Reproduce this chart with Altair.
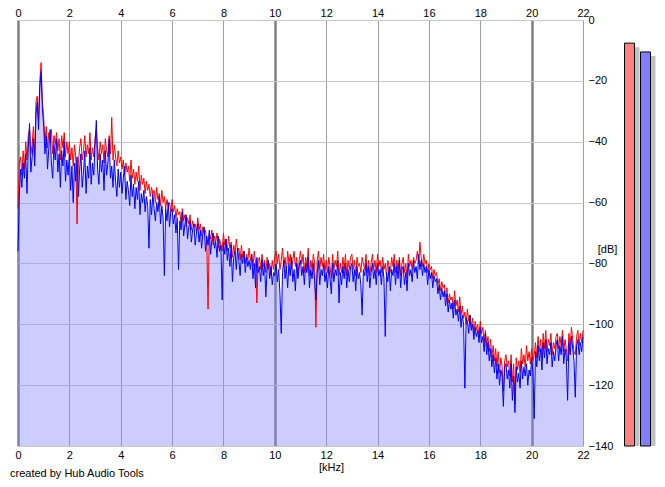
import altair as alt
import pandas as pd

# ---- spectrum data (dB), one value per 0.05 kHz bin from 0 to 22 kHz ----
FREQ_STEP_KHZ = 0.05

blue_db = [
    # 0 kHz
    -76, -58, -49, -55, -47, -52, -44, -57, -42, -34, -50, -45, -39, -48, -31, -27, -36, -22, -17, -29,
    # 1 kHz
    -35, -44, -38, -49, -42, -36, -47, -52, -41, -46, -39, -50, -44, -55, -43, -48, -40, -53, -46, -51,
    # 2 kHz
    -44, -56, -48, -60, -47, -53, -45, -58, -49, -44, -55, -50, -43, -57, -48, -52, -42, -54, -47, -51,
    # 3 kHz
    -41, -33, -49, -54, -44, -50, -46, -56, -43, -51, -47, -39, -52, -48, -55, -46, -53, -58, -49, -55,
    # 4 kHz
    -50, -57, -52, -48, -59, -53, -56, -61, -51, -58, -54, -62, -55, -59, -53, -64, -57, -60, -56, -63,
    # 5 kHz
    -58, -61, -75, -59, -64, -57, -62, -66, -60, -63, -58, -67, -61, -65, -84, -62, -66, -60, -68, -63,
    # 6 kHz
    -62, -67, -64, -70, -65, -82, -66, -69, -63, -71, -67, -64, -72, -68, -66, -73, -69, -67, -74, -70,
    # 7 kHz
    -67, -73, -69, -75, -70, -68, -76, -71, -74, -69, -77, -72, -70, -75, -73, -78, -71, -76, -74, -92,
    # 8 kHz
    -73, -77, -72, -79, -75, -81, -74, -86, -78, -76, -82, -75, -79, -84, -77, -80, -76, -83, -78, -81,
    # 9 kHz
    -79, -82, -77, -85, -80, -88, -78, -83, -81, -86, -79, -84, -80, -91, -82, -79, -85, -81, -87, -83,
    # 10 kHz
    -84, -80, -86, -82, -90, -103, -83, -79, -85, -81, -88, -80, -84, -78, -86, -82, -89, -80, -85, -81,
    # 11 kHz
    -79, -84, -81, -87, -80, -83, -78, -88, -82, -85, -80, -86, -92, -83, -79, -87, -82, -84, -80, -86,
    # 12 kHz
    -83, -88, -81, -85, -90, -80, -86, -82, -84, -79, -93, -83, -87, -81, -85, -80, -88, -82, -86, -81,
    # 13 kHz
    -80, -86, -82, -89, -81, -85, -83, -87, -97, -82, -84, -80, -86, -81, -88, -83, -80, -85, -82, -87,
    # 14 kHz
    -80, -84, -82, -87, -81, -85, -104, -83, -86, -81, -89, -82, -84, -80, -87, -81, -85, -79, -88, -82,
    # 15 kHz
    -81, -87, -83, -89, -80, -84, -82, -86, -79, -83, -81, -85, -77, -82, -79, -84, -80, -83, -81, -87,
    # 16 kHz
    -82, -85, -83, -88, -84, -86, -85, -90, -87, -92, -88, -91, -89, -94, -90, -96, -92, -95, -93, -98,
    # 17 kHz
    -92, -97, -95, -99, -94, -101, -97, -100, -121, -98, -99, -103, -97, -102, -100, -105, -101, -104, -102, -106,
    # 18 kHz
    -101, -106, -104, -109, -103, -110, -106, -112, -108, -114, -110, -116, -111, -118, -113, -120, -115, -117, -127, -114,
    # 19 kHz
    -113, -118, -115, -121, -113, -125, -117, -129, -114, -119, -116, -121, -112, -118, -114, -117, -113, -120, -115, -117,
    # 20 kHz
    -111, -116, -131, -109, -114, -107, -112, -108, -115, -106, -111, -105, -113, -108, -110, -106, -114, -109, -112, -107,
    # 21 kHz
    -105, -112, -107, -110, -104, -113, -108, -111, -125, -106, -110, -104, -108, -112, -124, -107, -105, -110, -106, -109,
    # 22 kHz
    -104,
]

red_db = [
    # 0 kHz
    -62, -47, -45, -51, -43, -49, -40, -46, -38, -36, -44, -41, -35, -45, -27, -25, -33, -20, -14, -27,
    # 1 kHz
    -32, -40, -35, -42, -37, -39, -36, -44, -38, -41, -37, -43, -39, -46, -38, -42, -37, -45, -40, -44,
    # 2 kHz
    -40, -46, -42, -48, -41, -45, -67, -47, -42, -39, -46, -43, -38, -45, -41, -44, -37, -46, -42, -45,
    # 3 kHz
    -39, -36, -42, -46, -40, -44, -41, -47, -39, -43, -45, -38, -44, -32, -46, -41, -45, -48, -43, -47,
    # 4 kHz
    -45, -49, -46, -51, -47, -50, -48, -53, -46, -52, -49, -54, -50, -53, -48, -56, -51, -54, -52, -57,
    # 5 kHz
    -53, -56, -54, -58, -55, -57, -56, -60, -55, -59, -57, -61, -56, -60, -58, -62, -59, -61, -60, -63,
    # 6 kHz
    -59, -63, -61, -65, -62, -64, -63, -67, -62, -66, -64, -68, -65, -67, -64, -69, -66, -68, -67, -70,
    # 7 kHz
    -65, -69, -67, -71, -68, -70, -69, -73, -95, -70, -72, -69, -74, -71, -73, -70, -75, -72, -74, -76,
    # 8 kHz
    -70, -74, -72, -76, -71, -75, -73, -78, -74, -77, -72, -76, -75, -79, -74, -78, -76, -80, -77, -79,
    # 9 kHz
    -75, -79, -77, -81, -76, -80, -93, -79, -78, -82, -77, -81, -79, -83, -78, -82, -80, -84, -79, -82,
    # 10 kHz
    -78, -76, -80, -77, -82, -79, -75, -81, -78, -83, -76, -80, -77, -82, -79, -76, -81, -78, -84, -79,
    # 11 kHz
    -76, -80, -77, -83, -78, -81, -75, -84, -79, -82, -77, -80, -101, -79, -76, -82, -78, -81, -77, -83,
    # 12 kHz
    -79, -83, -78, -81, -85, -77, -82, -79, -81, -76, -84, -80, -83, -78, -82, -77, -84, -79, -82, -78,
    # 13 kHz
    -77, -82, -79, -84, -78, -81, -80, -83, -78, -80, -82, -77, -83, -79, -84, -80, -77, -82, -79, -83,
    # 14 kHz
    -77, -81, -79, -83, -78, -82, -80, -84, -79, -81, -83, -78, -81, -77, -83, -79, -82, -78, -84, -80,
    # 15 kHz
    -78, -83, -80, -85, -77, -81, -79, -82, -78, -80, -79, -76, -80, -73, -78, -81, -77, -80, -79, -83,
    # 16 kHz
    -80, -82, -81, -85, -82, -84, -83, -87, -85, -89, -86, -88, -87, -91, -88, -93, -90, -92, -91, -95,
    # 17 kHz
    -89, -94, -92, -96, -91, -97, -94, -98, -96, -100, -95, -99, -97, -101, -98, -103, -99, -102, -100, -104,
    # 18 kHz
    -99, -103, -101, -106, -102, -107, -104, -109, -105, -111, -107, -112, -108, -114, -109, -116, -111, -114, -122, -112,
    # 19 kHz
    -110, -114, -112, -117, -110, -119, -113, -126, -111, -115, -112, -116, -108, -113, -110, -114, -107, -112, -109, -113,
    # 20 kHz
    -108, -112, -110, -106, -111, -104, -109, -105, -111, -103, -108, -102, -109, -105, -107, -103, -110, -106, -108, -104,
    # 21 kHz
    -103, -108, -104, -107, -102, -109, -105, -108, -112, -103, -107, -101, -105, -109, -110, -104, -102, -107, -103, -106,
    # 22 kHz
    -102,
]

freq_khz = [round(i * FREQ_STEP_KHZ, 2) for i in range(len(blue_db))]

# ---- level meters ----
meter_channels = ["L", "R"]
meter_levels_db = [-7.6, -10.5]

x_ticks = list(range(0, 23, 2))
y_ticks = list(range(-140, 1, 20))

FONT = "Liberation Sans"

spec = pd.DataFrame({"f": freq_khz, "blue": blue_db, "red": red_db})
meters = pd.DataFrame({"ch": meter_channels, "level": meter_levels_db})

y_scale = alt.Scale(domain=[-140, 0], nice=False, zero=False)
y_axis = alt.Axis(
    orient="right", values=y_ticks, grid=True, gridColor="#c8c8c8", gridWidth=1,
    ticks=False, domain=False, labelPadding=5, labelFontSize=11, labelColor="black",
    labelFont=FONT, labelAlign="left", labelBaseline="middle",
    title="[dB]", titleAngle=0, titleX=24, titleY=229, titleFontWeight="normal",
    titleFontSize=11, titleFont=FONT, titleColor="black",
    titleAlign="center", titleBaseline="middle",
)

def x_scale():
    return alt.Scale(domain=[0, 22], nice=False, zero=False)

x_axis_bottom = alt.Axis(
    orient="bottom", values=x_ticks, grid=True,
    gridColor={"condition": {"test": "datum.value % 10 === 0", "value": "#808080"}, "value": "#a0a0a0"},
    gridWidth={"condition": {"test": "datum.value % 10 === 0", "value": 2.5}, "value": 1},
    ticks=False, domain=False, labelPadding=3, labelFontSize=11, labelColor="black",
    labelFont=FONT, labelFlush=False, title="[kHz]", titlePadding=1, titleX=313,
    titleFontWeight="normal", titleFontSize=11, titleFont=FONT, titleColor="black",
)
x_axis_top = alt.Axis(
    orient="top", values=x_ticks, grid=False, ticks=False, domain=False,
    labelPadding=2, labelFontSize=11, labelColor="black", labelFont=FONT,
    labelFlush=False, title=None,
)

base = alt.Chart(spec)

area = base.mark_area(color="#8080ff", opacity=0.4).encode(
    x=alt.X("f:Q", scale=x_scale(), axis=x_axis_bottom),
    y=alt.Y("blue:Q", scale=y_scale, axis=y_axis),
    y2=alt.datum(-140),
)
red_line = base.mark_line(color="#ff0000", strokeWidth=1).encode(
    x=alt.X("f:Q", scale=x_scale(), axis=None),
    y=alt.Y("red:Q", scale=y_scale, axis=y_axis),
)
blue_line = base.mark_line(color="#0000ff", strokeWidth=1).encode(
    x=alt.X("f:Q", scale=x_scale(), axis=x_axis_top),
    y=alt.Y("blue:Q", scale=y_scale, axis=y_axis),
)

meter_x = alt.X(
    "ch:N",
    scale=alt.Scale(domain=meter_channels, range=[603.5, 635.5], paddingInner=0, paddingOuter=0),
    axis=None,
)
mbase = alt.Chart(meters)
shadow = mbase.mark_bar(width=10, color="#c0c0c0", xOffset=5, yOffset=4).encode(
    x=meter_x,
    y=alt.Y("level:Q", scale=y_scale, axis=y_axis),
    y2=alt.datum(-140),
)
bars = mbase.mark_bar(width=10, stroke="black", strokeWidth=1).encode(
    x=meter_x,
    y=alt.Y("level:Q", scale=y_scale, axis=y_axis),
    y2=alt.datum(-140),
    color=alt.Color("ch:N", scale=alt.Scale(domain=meter_channels, range=["#ff8080", "#8080ff"]), legend=None),
)

chart = alt.layer(area, red_line, blue_line, shadow, bars).resolve_scale(
    x="independent"
).properties(
    width=565,
    height=426,
    autosize=alt.AutoSizeParams(type="none"),
    padding={"left": 10, "top": 12, "right": 74, "bottom": 33},
    title=alt.TitleParams(
        "created by Hub Audio Tools", orient="bottom", anchor="start", frame="group",
        fontSize=11, fontWeight="normal", font=FONT, color="black", dx=-8, offset=0, dy=-4,
    ),
).configure_view(stroke=None).configure(background="white")

chart.save("out.html", embed_options={"renderer": "svg", "actions": False})
